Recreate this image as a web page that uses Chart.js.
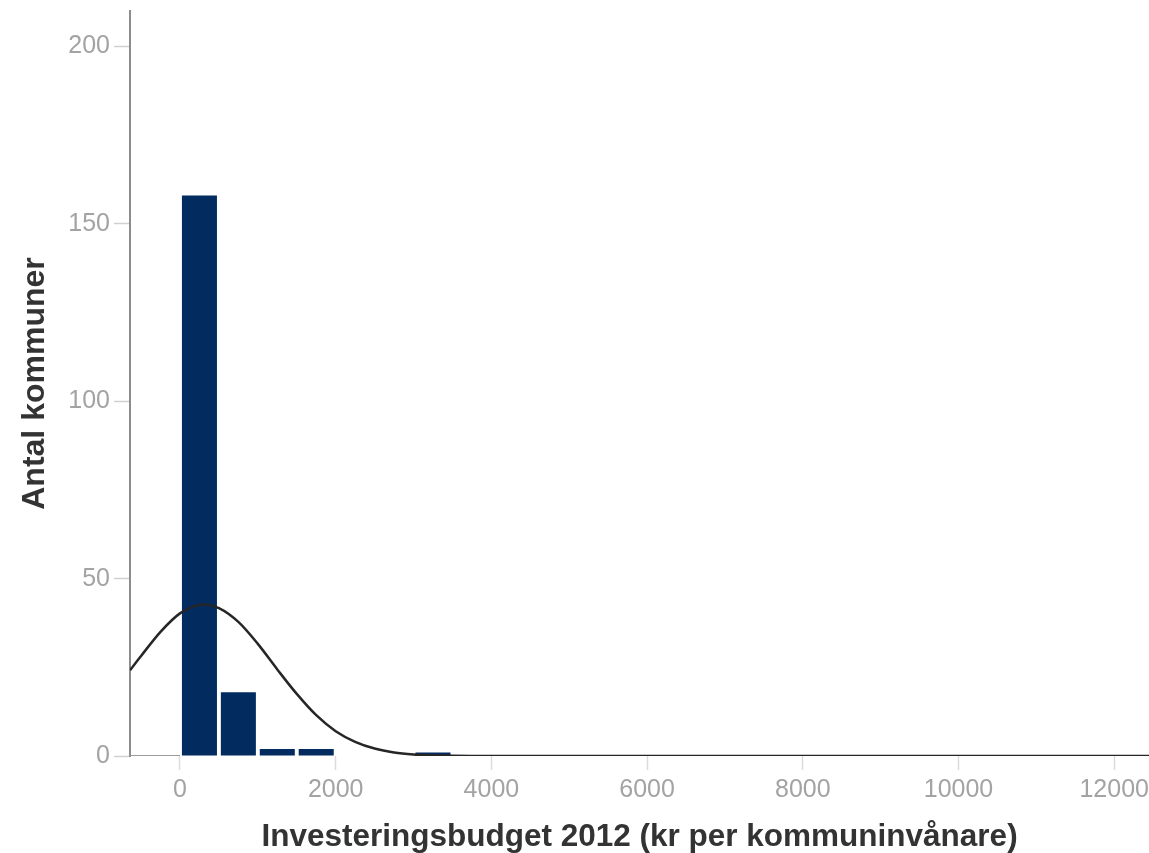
<!DOCTYPE html>
<html>
<head>
<meta charset="utf-8">
<script src="https://cdn.jsdelivr.net/npm/chart.js@4/dist/chart.umd.min.js"></script>
<style>
  html, body { margin: 0; padding: 0; background: #fff; }
</style>
</head>
<body>
<canvas id="histo" width="1149" height="853"></canvas>
<script>
  // Histogram bins (centre of each 500 kr bin) and counts
  const binCenters = [250, 750, 1250, 1750, 3250];
  const binCounts = [158, 18, 2, 2, 1];

  // Normal curve
  const curveX = [-642, -500, -250, 0, 250, 310, 500, 750, 1000, 1250, 1500, 1750,
    2000, 2250, 2500, 2750, 3000, 3250, 3500, 3750, 4000, 12447];
  const curveY = [24.2, 28.2, 35.0, 40.2, 42.6, 42.7, 41.7, 37.8, 31.6, 24.4, 17.5, 11.5,
    7.0, 4.0, 2.1, 1.0, 0.44, 0.18, 0.07, 0.02, 0, 0];

  const xTicks = [0, 2000, 4000, 6000, 8000, 10000, 12000];
  const yTicks = [0, 50, 100, 150, 200];

  const X_MIN = -642;
  const X_MAX = 12447;
  const Y_MAX = 210;

  const BAR_COLOR = '#022b60';
  const TICK_TEXT = '#a3a3a3';
  const TITLE_COLOR = '#333333';
  const FONT = "'Liberation Sans', Arial, sans-serif";

  new Chart(document.getElementById('histo'), {
    data: {
      datasets: [
        {
          type: 'line',
          label: 'Normal',
          data: curveX.map((x, i) => ({ x: x, y: curveY[i] })),
          borderColor: '#262626',
          borderWidth: 2.5,
          pointRadius: 0,
          cubicInterpolationMode: 'monotone',
          fill: false,
          order: 0,
        },
        {
          type: 'bar',
          label: 'Antal',
          data: binCenters.map((x, i) => ({ x: x, y: binCounts[i] })),
          backgroundColor: BAR_COLOR,
          borderWidth: 0,
          barPercentage: 0.9,
          categoryPercentage: 1.0,
          order: 2,
        },
        {
          // short piece of x axis left of zero
          type: 'line',
          label: 'axis',
          data: [{ x: X_MIN, y: 0 }, { x: 0, y: 0 }],
          borderColor: '#9a9a9a',
          borderWidth: 2,
          pointRadius: 0,
          order: 3,
        },
      ],
    },
    options: {
      responsive: false,
      animation: false,
      devicePixelRatio: 1,
      layout: { autoPadding: false, padding: { top: 11, right: 0, bottom: 0, left: 0 } },
      plugins: {
        legend: { display: false },
        tooltip: { enabled: false },
      },
      scales: {
        x: {
          type: 'linear',
          min: X_MIN,
          max: X_MAX,
          offset: false,
          afterBuildTicks: (s) => { s.ticks = xTicks.map((v) => ({ value: v })); },
          afterFit: (s) => {
            s.height = 97;
            s.paddingLeft = 0;
            s.paddingRight = 0;
          },
          border: { display: false },
          grid: {
            display: true,
            offset: false,
            drawOnChartArea: false,
            drawTicks: true,
            tickLength: 14,
            tickColor: '#dcdcdc',
            tickWidth: 1.5,
          },
          ticks: {
            color: TICK_TEXT,
            font: { family: FONT, size: 25 },
            padding: 5,
            maxRotation: 0,
            autoSkip: false,
            callback: (v) => String(v),
          },
          title: {
            display: true,
            text: 'Investeringsbudget 2012 (kr per kommuninvånare)',
            color: TITLE_COLOR,
            font: { family: FONT, size: 31.5, weight: 'bold', lineHeight: 1.0 },
            padding: { top: 0, bottom: 0 },
          },
        },
        y: {
          type: 'linear',
          min: 0,
          max: Y_MAX,
          afterBuildTicks: (s) => { s.ticks = yTicks.map((v) => ({ value: v })); },
          afterFit: (s) => {
            s.width = 130;
            s.paddingTop = 0;
            s.paddingBottom = 0;
          },
          border: { display: true, color: '#8c8c8c', width: 2 },
          grid: {
            display: true,
            drawOnChartArea: false,
            drawTicks: true,
            tickLength: 16,
            tickColor: '#d0d0d0',
            tickWidth: 1.5,
          },
          ticks: {
            color: TICK_TEXT,
            font: { family: FONT, size: 25 },
            padding: 4,
          },
          title: {
            display: true,
            text: 'Antal kommuner',
            color: TITLE_COLOR,
            font: { family: FONT, size: 32, weight: 'bold', lineHeight: 1.0 },
            padding: { top: 19, bottom: 0 },
          },
        },
      },
    },
  });
</script>
</body>
</html>
